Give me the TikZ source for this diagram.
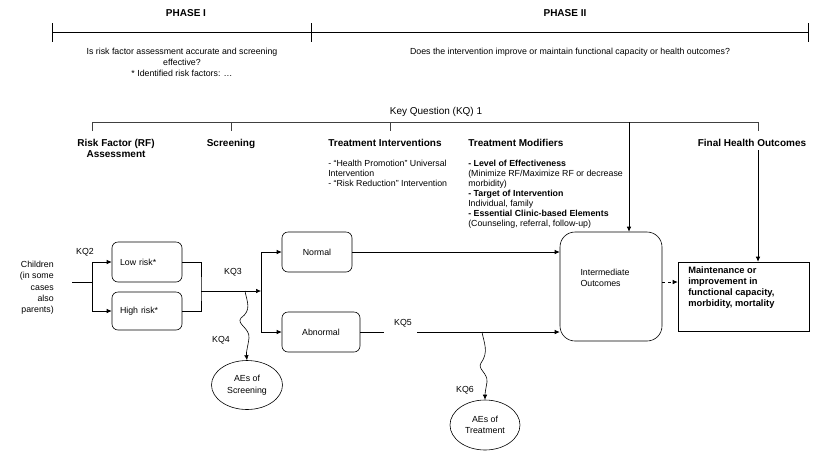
\documentclass[tikz,border=0pt]{standalone}
\usepackage{fontspec}
\setmainfont{Liberation Sans}
\usetikzlibrary{positioning,arrows.meta,shapes.geometric}

\begin{document}
\begin{tikzpicture}[x=1pt,y=-1pt,>={Latex[length=5pt,width=4.5pt]},
  every node/.style={font=\fontsize{8.8}{10}\selectfont,inner sep=0pt},
  hdr/.style={font=\fontsize{10}{11}\selectfont\bfseries},
  rbox/.style={draw,rounded corners=6pt,minimum height=40pt},
  aebox/.style={draw,ellipse,minimum width=71pt,minimum height=49pt,align=center,font=\fontsize{8.8}{11.5}\selectfont},
  line width=0.6pt]
  \useasboundingbox (0,0) rectangle (823,459);
  % phases
  \draw (52,32) -- (808,32);
  \foreach \x in {52,311,808}{
    \draw (\x,23) -- (\x,42);
  }
  \node[hdr] (ph1) at (186,13) {PHASE I};
  \node[hdr] (ph2) at (565,13) {PHASE II};
  \node[anchor=north,align=center,font=\fontsize{8.8}{11}\selectfont] (q1) at (182,48) {Is risk factor assessment accurate and screening\\effective?\\* Identified risk factors: …};
  \node[anchor=north] (q2) at (570,48) {Does the intervention improve or maintain functional capacity or health outcomes?};
  % key question 1
  \node[anchor=south,font=\fontsize{10}{11}\selectfont] (kq1) at (436,117) {Key Question (KQ) 1};
  \draw[black!75] (92,131) |- (758,122) -- (758,131);
  \foreach \x in {231,390}{
    \draw[black!75] (\x,122) -- (\x,131);
  }
  \coordinate (kq1c) at (629,122);
  \coordinate (fhoc) at (758,150);
  % column headers
  \node[hdr,anchor=north,align=center] (rfa) at (116,139) {Risk Factor (RF)\\Assessment};
  \node[hdr,anchor=north] (scr) at (231,139) {Screening};
  \node[hdr,anchor=north west] (ti) at (328,139) {Treatment Interventions};
  \node[hdr,anchor=north west] (tm) at (468,139) {Treatment Modifiers};
  \node[hdr,anchor=north] (fho) at (752,139) {Final Health Outcomes};
  \node[anchor=north west,align=left] (til) at (328,159.5) {- “Health Promotion” Universal\\Intervention\\- “Risk Reduction” Intervention};
  \node[anchor=north west,align=left] (tml) at (468,159.5) {\textbf{- Level of Effectiveness}\\(Minimize RF/Maximize RF or decrease\\morbidity)\\\textbf{- Target of Intervention}\\Individual, family\\\textbf{- Essential Clinic-based Elements}\\(Counseling, referral, follow-up)};
  % flow
  \node[anchor=east,align=right,font=\fontsize{8.8}{11.3}\selectfont] (ch) at (54,288) {Children\\(in some\\cases\\also\\parents)};
  \node[rbox,minimum width=70pt,text width=54pt,inner xsep=8pt,align=left] (low) at (147,262) {Low risk*};
  \node[rbox,minimum width=70pt,text width=54pt,inner xsep=8pt,align=left,minimum height=38pt] (high) at (147,311) {High risk*};
  \node[rbox,minimum width=70pt] (norm) at (317,252) {Normal};
  \node[rbox,minimum width=78pt] (abn) at (321,332) {Abnormal};
  \node[draw,rounded corners=15pt,minimum width=102pt,minimum height=109pt] (io) at (611,286.5) {};
  \node[align=left,font=\fontsize{8.8}{11}\selectfont] (iot) at (605,277.5) {Intermediate\\Outcomes};
  \node[draw,minimum width=131pt,minimum height=69pt] (fin) at (743.5,296.5) {};
  \node[anchor=north west,align=left,font=\fontsize{9.3}{11.3}\selectfont\bfseries] (fint) at (688,266) {Maintenance or\\improvement in\\functional capacity,\\morbidity, mortality};
  \node[aebox] (aes) at (247,385) {AEs of\\Screening};
  \node[aebox,minimum width=70pt,minimum height=50pt] (aet) at (485,425) {AEs of\\Treatment};
  \node (kq2) at (85,252) {KQ2};
  \node (kq3) at (233,272) {KQ3};
  \node (kq4) at (221,340) {KQ4};
  \node (kq5) at (403,323) {KQ5};
  \node (kq6) at (465,390) {KQ6};
  \coordinate (chout) at (72,282);
  \coordinate (split1) at (92,282);
  \coordinate (join1) at (201,291);
  \coordinate (split2) at (261,291);
  \draw (chout) -- (split1);
  \draw[->] (split1) |- (low.west);
  \draw[->] (split1) |- (high.west);
  \draw (low.east) -| (join1) |- (high.east);
  \draw[->] (join1) -- (split2);
  \draw[->] (split2) |- (norm.west);
  \draw[->] (split2) |- (abn.west);
  \draw[->] (norm.east) -- (io.west |- norm.east);
  \draw (abn.east) -- ([xshift=-10pt]kq5.west |- abn.east);
  \draw[->] ([xshift=5pt]kq5.east |- abn.east) -- (io.west |- abn.east);
  \draw[->,dashed] ([yshift=4.5pt]io.east) -- ([yshift=14.5pt]fin.west);
  \draw[->] (kq1c) -- (kq1c |- io.north);
  \draw[->] (fhoc) -- (fhoc |- fin.north);
  % adverse effects
  \draw[->] (245,291) .. controls (247,302) and (252,310) .. (241,318) .. controls (236,324) and (250,328) .. (249,338) .. controls (248,346) and (246,352) .. (aes.north);
  \draw[->] (482,332) .. controls (484,343) and (489,352) .. (481,363) .. controls (477,369) and (488,373) .. (487,382) .. controls (486,388) and (485,393) .. (aet.north);
\end{tikzpicture}
\end{document}
